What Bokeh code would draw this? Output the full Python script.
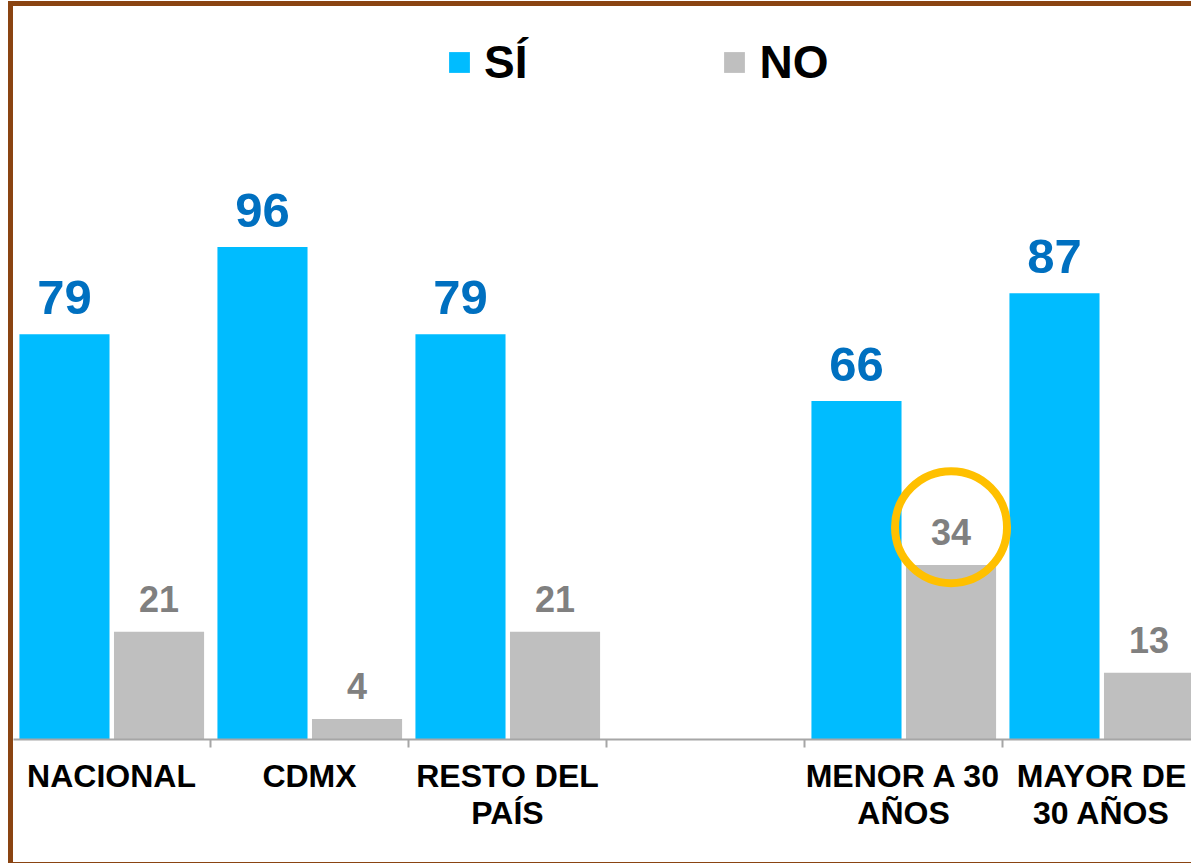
from bokeh.plotting import figure
from bokeh.models import (Range1d, LinearAxis, FixedTicker, ColumnDataSource, LabelSet,
                          Legend, LegendItem)
from bokeh.core.properties import value
from bokeh.embed import file_html
from bokeh.resources import INLINE

categories = ["NACIONAL", "CDMX", "RESTO DEL\nPAÍS", "", "MENOR A 30\nAÑOS", "MAYOR DE\n30 AÑOS"]
si_values = [79, 96, 79, None, 66, 87]
no_values = [21, 4, 21, None, 34, 13]
highlight_index = 4  # "NO" bar circled

SI_COLOR = "#00BCFF"
NO_COLOR = "#BFBFBF"
BROWN = "#8A4412"
FONT = "Liberation Sans"

p = figure(width=1183, height=862, output_backend="svg", toolbar_location=None,
           x_range=Range1d(0.005, 0.005 + 1183 / 198), y_range=Range1d(0, 142.9),
           x_axis_location=None, y_axis_location=None,
           min_border_left=0, min_border_right=0, min_border_top=0, min_border_bottom=129,
           styles={"border-left": f"5px solid {BROWN}", "border-top": f"5px solid {BROWN}",
                   "border-bottom": f"1px solid {BROWN}", "margin-left": "8px",
                   "margin-top": "1px"})
p.outline_line_color = None
p.xgrid.visible = False
p.ygrid.visible = False
p.background_fill_color = "white"
p.border_fill_color = "white"

idx = [i for i, v in enumerate(si_values) if v is not None]
si_src = ColumnDataSource(dict(x=[i + 0.2625 for i in idx], top=[si_values[i] for i in idx],
                               lab=[str(si_values[i]) for i in idx]))
no_src = ColumnDataSource(dict(x=[i + 0.74 for i in idx], top=[no_values[i] for i in idx],
                               lab=[str(no_values[i]) for i in idx]))

r_si = p.vbar(x="x", top="top", bottom=0, width=0.455, source=si_src,
              fill_color=SI_COLOR, line_color=None)
r_no = p.vbar(x="x", top="top", bottom=0, width=0.455, source=no_src,
              fill_color=NO_COLOR, line_color=None)

p.add_layout(LabelSet(x="x", y="top", text="lab", source=si_src, y_offset=20,
                      text_align="center", text_baseline="alphabetic",
                      text_font=value(FONT), text_font_style="bold", text_font_size="49px",
                      text_color="#0070C0"))
p.add_layout(LabelSet(x="x", y="top", text="lab", source=no_src, y_offset=20,
                      text_align="center", text_baseline="alphabetic",
                      text_font=value(FONT), text_font_style="bold", text_font_size="36px",
                      text_color="#808080"))

# highlight circle around the NO label of "MENOR A 30 AÑOS"
p.circle(x=[highlight_index + 0.74], y=[no_values[highlight_index] + 7.4], radius=56,
         radius_units="screen", fill_color=None, line_color="#FFC000", line_width=8)

centers = [i + 0.5 for i, c in enumerate(categories) if c]
boundaries = [1, 2, 3, 4, 5]
xaxis = LinearAxis(ticker=FixedTicker(ticks=centers, minor_ticks=boundaries),
                   major_label_overrides={i + 0.5: c for i, c in enumerate(categories) if c})
xaxis.axis_line_color = "#A6A6A6"
xaxis.axis_line_width = 2
xaxis.major_tick_line_color = None
xaxis.major_tick_out = 0
xaxis.major_tick_in = 0
xaxis.minor_tick_line_color = "#A6A6A6"
xaxis.minor_tick_line_width = 2
xaxis.minor_tick_out = 8
xaxis.minor_tick_in = 0
xaxis.major_label_standoff = 10
xaxis.major_label_text_font = FONT
xaxis.major_label_text_font_style = "bold"
xaxis.major_label_text_font_size = "32px"
xaxis.major_label_text_color = "black"
xaxis.major_label_text_line_height = 1.05
xaxis.major_label_orientation = "horizontal"
p.add_layout(xaxis, "below")

legend = Legend(items=[LegendItem(label="SÍ", renderers=[r_si]),
                       LegendItem(label="NO", renderers=[r_no])],
                orientation="horizontal", location=(433, 650),
                glyph_width=26, glyph_height=26, label_standoff=12, spacing=194,
                padding=0, margin=0, border_line_color=None, background_fill_alpha=0,
                label_text_font=FONT, label_text_font_style="bold",
                label_text_font_size="46px", label_text_color="black")
p.add_layout(legend)

open("out.html", "w").write(file_html(p, INLINE))
